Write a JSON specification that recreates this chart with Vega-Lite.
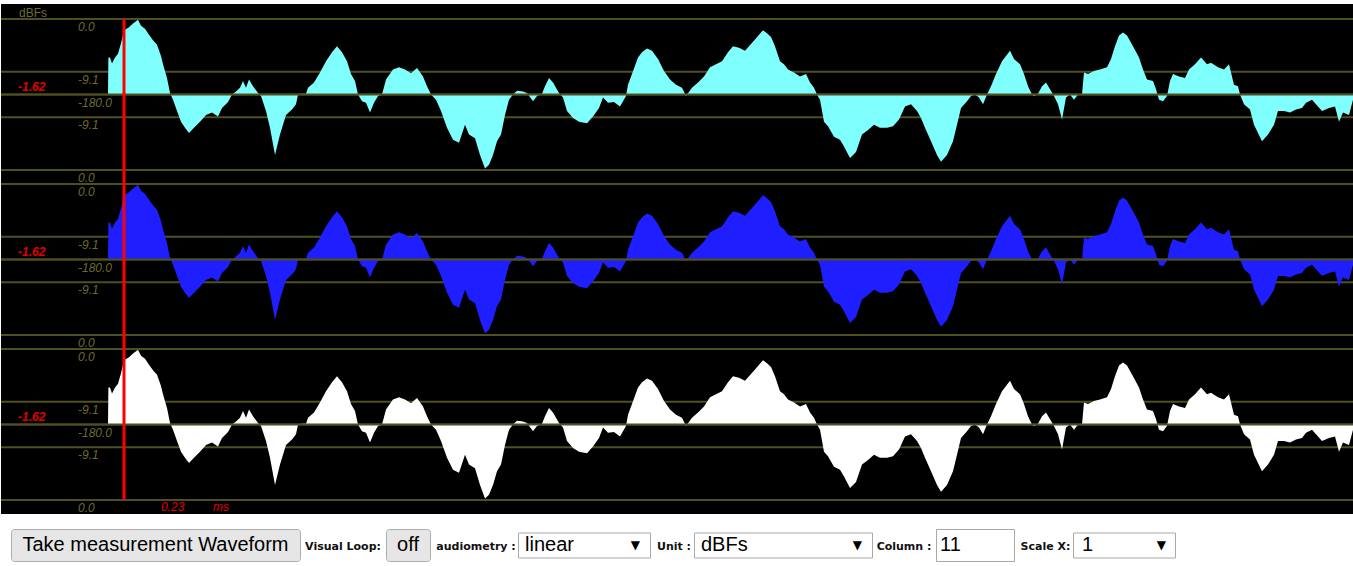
{
"$schema": "https://vega.github.io/schema/vega-lite/v6.json",
"padding": {"left": 0, "top": 4, "right": 0, "bottom": 0},
"background": "white",
"config": {"view": {"stroke": null}, "text": {"font": "Liberation Sans"}},
"datasets": {
"wave": [
{"n":107,"a":0},{"n":107.4,"a":0.49},{"n":109,"a":0.49},{"n":111,"a":0.41},{"n":114,"a":0.49},{"n":117,"a":0.54},{"n":120,"a":0.68},{"n":123,"a":0.85},{"n":128,"a":0.89},{"n":132,"a":0.94},{"n":137,"a":0.99},{"n":140,"a":0.91},{"n":144,"a":0.87},{"n":148,"a":0.79},{"n":152,"a":0.72},{"n":156,"a":0.66},{"n":160,"a":0.51},{"n":162,"a":0.40},{"n":166,"a":0.22},{"n":169,"a":0.02},{"n":172,"a":-0.07},{"n":176,"a":-0.22},{"n":180,"a":-0.36},{"n":184,"a":-0.44},{"n":188,"a":-0.51},{"n":193,"a":-0.44},{"n":199,"a":-0.36},{"n":205,"a":-0.27},{"n":211,"a":-0.24},{"n":217,"a":-0.29},{"n":221,"a":-0.18},{"n":227,"a":-0.10},{"n":231,"a":0},{"n":235,"a":0.04},{"n":239,"a":0.09},{"n":242,"a":0.18},{"n":245,"a":0.09},{"n":248,"a":0.20},{"n":252,"a":0.11},{"n":257,"a":0.02},{"n":260,"a":-0.02},{"n":265,"a":-0.22},{"n":269,"a":-0.44},{"n":274,"a":-0.80},{"n":279,"a":-0.53},{"n":285,"a":-0.27},{"n":291,"a":-0.20},{"n":295,"a":-0.13},{"n":297,"a":0},{"n":301,"a":0.01},{"n":305,"a":0.01},{"n":307,"a":0.09},{"n":313,"a":0.16},{"n":319,"a":0.29},{"n":325,"a":0.44},{"n":331,"a":0.56},{"n":336,"a":0.64},{"n":341,"a":0.56},{"n":346,"a":0.44},{"n":350,"a":0.27},{"n":354,"a":0.18},{"n":357,"a":0},{"n":361,"a":-0.09},{"n":365,"a":-0.11},{"n":369,"a":-0.24},{"n":373,"a":-0.11},{"n":377,"a":-0.02},{"n":381,"a":0},{"n":385,"a":0.20},{"n":392,"a":0.33},{"n":398,"a":0.36},{"n":404,"a":0.33},{"n":410,"a":0.28},{"n":416,"a":0.35},{"n":422,"a":0.24},{"n":426,"a":0.11},{"n":430,"a":0},{"n":435,"a":-0.07},{"n":440,"a":-0.22},{"n":446,"a":-0.44},{"n":452,"a":-0.60},{"n":458,"a":-0.64},{"n":464,"a":-0.40},{"n":468,"a":-0.53},{"n":474,"a":-0.58},{"n":479,"a":-0.80},{"n":484,"a":-0.98},{"n":488,"a":-0.93},{"n":492,"a":-0.80},{"n":496,"a":-0.62},{"n":500,"a":-0.53},{"n":504,"a":-0.27},{"n":508,"a":-0.07},{"n":512,"a":0},{"n":516,"a":0.05},{"n":522,"a":0.04},{"n":526,"a":0.02},{"n":532,"a":-0.09},{"n":536,"a":-0.02},{"n":541,"a":0.01},{"n":544,"a":0.11},{"n":548,"a":0.22},{"n":552,"a":0.16},{"n":558,"a":0.02},{"n":562,"a":-0.04},{"n":566,"a":-0.22},{"n":572,"a":-0.31},{"n":578,"a":-0.36},{"n":586,"a":-0.38},{"n":592,"a":-0.29},{"n":598,"a":-0.18},{"n":602,"a":-0.04},{"n":607,"a":-0.11},{"n":613,"a":-0.10},{"n":619,"a":-0.16},{"n":625,"a":-0.02},{"n":627,"a":0.13},{"n":631,"a":0.27},{"n":637,"a":0.49},{"n":641,"a":0.56},{"n":646,"a":0.61},{"n":651,"a":0.58},{"n":657,"a":0.47},{"n":663,"a":0.31},{"n":669,"a":0.20},{"n":675,"a":0.13},{"n":681,"a":0.09},{"n":685,"a":-0.02},{"n":691,"a":0.09},{"n":697,"a":0.16},{"n":703,"a":0.24},{"n":709,"a":0.36},{"n":715,"a":0.40},{"n":721,"a":0.44},{"n":727,"a":0.56},{"n":732,"a":0.64},{"n":738,"a":0.62},{"n":744,"a":0.58},{"n":748,"a":0.64},{"n":754,"a":0.73},{"n":760,"a":0.82},{"n":762,"a":0.85},{"n":766,"a":0.81},{"n":770,"a":0.76},{"n":774,"a":0.64},{"n":779,"a":0.44},{"n":783,"a":0.40},{"n":787,"a":0.33},{"n":793,"a":0.29},{"n":799,"a":0.24},{"n":805,"a":0.27},{"n":809,"a":0.16},{"n":813,"a":0.09},{"n":816,"a":0},{"n":819,"a":-0.07},{"n":823,"a":-0.36},{"n":827,"a":-0.42},{"n":833,"a":-0.56},{"n":839,"a":-0.60},{"n":843,"a":-0.69},{"n":849,"a":-0.84},{"n":855,"a":-0.76},{"n":861,"a":-0.53},{"n":867,"a":-0.47},{"n":873,"a":-0.40},{"n":879,"a":-0.44},{"n":886,"a":-0.44},{"n":892,"a":-0.42},{"n":898,"a":-0.33},{"n":904,"a":-0.16},{"n":910,"a":-0.13},{"n":916,"a":-0.22},{"n":920,"a":-0.31},{"n":924,"a":-0.44},{"n":930,"a":-0.62},{"n":936,"a":-0.80},{"n":940,"a":-0.89},{"n":946,"a":-0.80},{"n":952,"a":-0.62},{"n":956,"a":-0.40},{"n":960,"a":-0.18},{"n":966,"a":-0.09},{"n":970,"a":-0.02},{"n":974,"a":0},{"n":978,"a":-0.04},{"n":982,"a":-0.13},{"n":986,"a":0},{"n":990,"a":0.11},{"n":995,"a":0.27},{"n":1001,"a":0.44},{"n":1005,"a":0.51},{"n":1009,"a":0.58},{"n":1013,"a":0.47},{"n":1019,"a":0.40},{"n":1023,"a":0.27},{"n":1027,"a":0.11},{"n":1031,"a":0},{"n":1033,"a":-0.02},{"n":1037,"a":0.01},{"n":1041,"a":0.11},{"n":1045,"a":0.16},{"n":1049,"a":0.07},{"n":1053,"a":-0.02},{"n":1057,"a":-0.13},{"n":1061,"a":-0.33},{"n":1065,"a":-0.04},{"n":1069,"a":0},{"n":1073,"a":-0.07},{"n":1077,"a":0},{"n":1081,"a":0},{"n":1083,"a":0.29},{"n":1087,"a":0.27},{"n":1093,"a":0.31},{"n":1099,"a":0.33},{"n":1106,"a":0.36},{"n":1110,"a":0.47},{"n":1114,"a":0.64},{"n":1118,"a":0.78},{"n":1122,"a":0.82},{"n":1126,"a":0.78},{"n":1132,"a":0.64},{"n":1138,"a":0.49},{"n":1142,"a":0.33},{"n":1146,"a":0.20},{"n":1152,"a":0.18},{"n":1155,"a":0.07},{"n":1158,"a":-0.07},{"n":1162,"a":-0.09},{"n":1166,"a":-0.02},{"n":1169,"a":0.18},{"n":1172,"a":0.27},{"n":1178,"a":0.24},{"n":1184,"a":0.22},{"n":1188,"a":0.33},{"n":1194,"a":0.40},{"n":1200,"a":0.49},{"n":1206,"a":0.40},{"n":1210,"a":0.42},{"n":1217,"a":0.36},{"n":1223,"a":0.33},{"n":1228,"a":0.40},{"n":1233,"a":0.13},{"n":1237,"a":0.11},{"n":1239,"a":0},{"n":1243,"a":-0.13},{"n":1249,"a":-0.20},{"n":1253,"a":-0.40},{"n":1257,"a":-0.51},{"n":1261,"a":-0.62},{"n":1267,"a":-0.53},{"n":1273,"a":-0.40},{"n":1277,"a":-0.22},{"n":1283,"a":-0.22},{"n":1289,"a":-0.24},{"n":1295,"a":-0.20},{"n":1301,"a":-0.18},{"n":1305,"a":-0.11},{"n":1311,"a":-0.07},{"n":1315,"a":-0.13},{"n":1321,"a":-0.22},{"n":1328,"a":-0.18},{"n":1334,"a":-0.16},{"n":1338,"a":-0.36},{"n":1342,"a":-0.24},{"n":1348,"a":-0.27},{"n":1353,"a":-0.02}
],
"grid": [{"level":1},{"level":0.3},{"level":0},{"level":-0.3},{"level":-1}],
"gridlabels": [{"label":"0.0","level":1},{"label":"-9.1","level":0.3},{"label":"-180.0","level":0},{"label":"-9.1","level":-0.3},{"label":"0.0","level":-1}],
"cursor": [{"n":123,"value":"-1.62","time":"0.23","unit":"ms"}]
},
"spacing": 0,
"bounds": "flush",
"vconcat": [
{
"width": 1353, "height": 178,
"view": {"fill": "black", "stroke": null},
"layer": [
{"data": {"name": "grid"}, "mark": {"type": "rule", "color": "#4f4f22", "strokeWidth": 2},
 "encoding": {"y": {"field": "level", "type": "quantitative", "scale": {"domain": [-1.1589, 1.1987], "nice": false, "zero": false}, "axis": null}}},
{"data": {"name": "wave"}, "mark": {"type": "area", "color": "#80ffff", "opacity": 1},
 "encoding": {"x": {"field": "n", "type": "quantitative", "scale": {"domain": [0, 1353], "nice": false, "zero": false}, "axis": null}, "y": {"field": "a", "type": "quantitative", "stack": null}, "y2": {"datum": 0}}},
{"data": {"name": "grid"}, "transform": [{"filter": "datum.level == 0"}], "mark": {"type": "rule", "color": "#4f4f22", "strokeWidth": 2},
 "encoding": {"y": {"field": "level", "type": "quantitative"}}},
{"data": {"name": "gridlabels"}, "mark": {"type": "text", "align": "left", "baseline": "middle", "dy": 8, "fontStyle": "italic", "fontSize": 12, "color": "#6b6b30"},
 "encoding": {"x": {"datum": 77}, "y": {"field": "level", "type": "quantitative"}, "text": {"field": "label"}}},
{"data": {"values": [{"label": "dBFs"}]}, "mark": {"type": "text", "align": "left", "baseline": "middle", "fontSize": 12, "color": "#6b6b30"},
 "encoding": {"x": {"datum": 18}, "y": {"datum": 1.079}, "text": {"field": "label"}}},
{"data": {"name": "cursor"}, "mark": {"type": "text", "align": "left", "baseline": "middle", "fontStyle": "italic", "fontWeight": "bold", "fontSize": 12, "color": "#e00000"},
 "encoding": {"x": {"datum": 17}, "y": {"datum": 0.1}, "text": {"field": "value"}}},
{"data": {"name": "cursor"}, "mark": {"type": "rule", "color": "#ff0000", "strokeWidth": 3},
 "encoding": {"x": {"field": "n", "type": "quantitative"}, "y": {"datum": 1}, "y2": {"datum": -1.1589}}}
]
},
{
"width": 1353, "height": 165,
"view": {"fill": "black", "stroke": null},
"layer": [
{"data": {"name": "grid"}, "mark": {"type": "rule", "color": "#4f4f22", "strokeWidth": 2},
 "encoding": {"y": {"field": "level", "type": "quantitative", "scale": {"domain": [-1.1589, 1.0265], "nice": false, "zero": false}, "axis": null}}},
{"data": {"name": "wave"}, "mark": {"type": "area", "color": "#1e1eff", "opacity": 1},
 "encoding": {"x": {"field": "n", "type": "quantitative", "scale": {"domain": [0, 1353], "nice": false, "zero": false}, "axis": null}, "y": {"field": "a", "type": "quantitative", "stack": null}, "y2": {"datum": 0}}},
{"data": {"name": "grid"}, "transform": [{"filter": "datum.level == 0"}], "mark": {"type": "rule", "color": "#4f4f22", "strokeWidth": 2},
 "encoding": {"y": {"field": "level", "type": "quantitative"}}},
{"data": {"name": "gridlabels"}, "mark": {"type": "text", "align": "left", "baseline": "middle", "dy": 8, "fontStyle": "italic", "fontSize": 12, "color": "#6b6b30"},
 "encoding": {"x": {"datum": 77}, "y": {"field": "level", "type": "quantitative"}, "text": {"field": "label"}}},
{"data": {"name": "cursor"}, "mark": {"type": "text", "align": "left", "baseline": "middle", "fontStyle": "italic", "fontWeight": "bold", "fontSize": 12, "color": "#e00000"},
 "encoding": {"x": {"datum": 17}, "y": {"datum": 0.1}, "text": {"field": "value"}}},
{"data": {"name": "cursor"}, "mark": {"type": "rule", "color": "#ff0000", "strokeWidth": 3},
 "encoding": {"x": {"field": "n", "type": "quantitative"}, "y": {"datum": 1.0265}, "y2": {"datum": -1.1589}}}
]
},
{
"width": 1353, "height": 167,
"view": {"fill": "black", "stroke": null},
"layer": [
{"data": {"name": "grid"}, "mark": {"type": "rule", "color": "#4f4f22", "strokeWidth": 2},
 "encoding": {"y": {"field": "level", "type": "quantitative", "scale": {"domain": [-1.1854, 1.0265], "nice": false, "zero": false}, "axis": null}}},
{"data": {"name": "wave"}, "mark": {"type": "area", "color": "#ffffff", "opacity": 1},
 "encoding": {"x": {"field": "n", "type": "quantitative", "scale": {"domain": [0, 1353], "nice": false, "zero": false}, "axis": null}, "y": {"field": "a", "type": "quantitative", "stack": null}, "y2": {"datum": 0}}},
{"data": {"name": "grid"}, "transform": [{"filter": "datum.level == 0"}], "mark": {"type": "rule", "color": "#4f4f22", "strokeWidth": 2},
 "encoding": {"y": {"field": "level", "type": "quantitative"}}},
{"data": {"name": "gridlabels"}, "mark": {"type": "text", "align": "left", "baseline": "middle", "dy": 8, "fontStyle": "italic", "fontSize": 12, "color": "#6b6b30"},
 "encoding": {"x": {"datum": 77}, "y": {"field": "level", "type": "quantitative"}, "text": {"field": "label"}}},
{"data": {"name": "cursor"}, "mark": {"type": "text", "align": "left", "baseline": "middle", "fontStyle": "italic", "fontWeight": "bold", "fontSize": 12, "color": "#e00000"},
 "encoding": {"x": {"datum": 17}, "y": {"datum": 0.1}, "text": {"field": "value"}}},
{"data": {"name": "cursor"}, "mark": {"type": "text", "align": "left", "baseline": "middle", "fontStyle": "italic", "fontSize": 12, "color": "#e00000"},
 "encoding": {"x": {"datum": 160}, "y": {"datum": -1.093}, "text": {"field": "time"}}},
{"data": {"name": "cursor"}, "mark": {"type": "text", "align": "left", "baseline": "middle", "fontStyle": "italic", "fontSize": 12, "color": "#e00000"},
 "encoding": {"x": {"datum": 212}, "y": {"datum": -1.093}, "text": {"field": "unit"}}},
{"data": {"name": "cursor"}, "mark": {"type": "rule", "color": "#ff0000", "strokeWidth": 3},
 "encoding": {"x": {"field": "n", "type": "quantitative"}, "y": {"datum": 1.0265}, "y2": {"datum": -1}}}
]
},
{"width": 1353, "height": 15, "data": {"values": [{"label": ""}]}, "mark": {"type": "text"}, "encoding": {"text": {"field": "label"}}},
{
"spacing": 0,
"bounds": "flush",
"center": true,
"hconcat": [
{"width": 10, "height": 32, "data": {"values": [{"label": ""}]}, "mark": {"type": "text"}, "encoding": {"text": {"field": "label"}}},
{"width": 289, "height": 32, "view": {"fill": "#e6e6e6", "stroke": "#adadad", "cornerRadius": 3}, "data": {"values": [{"label": "Take measurement Waveform"}]}, "mark": {"type": "text", "fontSize": 20, "color": "#000000"}, "encoding": {"text": {"field": "label"}}},
{"width": 86, "height": 32, "data": {"values": [{"label": "Visual Loop:"}]}, "mark": {"type": "text", "font": "DejaVu Sans", "fontWeight": "bold", "fontSize": 11, "dy": 2, "color": "#111111"}, "encoding": {"text": {"field": "label"}}},
{"width": 44, "height": 32, "view": {"fill": "#e6e6e6", "stroke": "#adadad", "cornerRadius": 3}, "data": {"values": [{"label": "off"}]}, "mark": {"type": "text", "fontSize": 20, "color": "#000000"}, "encoding": {"text": {"field": "label"}}},
{"width": 88, "height": 32, "data": {"values": [{"label": "audiometry :"}]}, "mark": {"type": "text", "font": "DejaVu Sans", "fontWeight": "bold", "fontSize": 11, "dy": 2, "dx": 2, "color": "#111111"}, "encoding": {"text": {"field": "label"}}},
{"width": 132, "height": 25, "view": {"fill": "white", "stroke": "#a9a9a9"},
 "layer": [
 {"data": {"values": [{"label": "linear"}]}, "mark": {"type": "text", "align": "left", "fontSize": 20, "color": "#000000"}, "encoding": {"x": {"value": 7}, "text": {"field": "label"}}},
 {"data": {"values": [{"label": "▼"}]}, "mark": {"type": "text", "align": "right", "font": "DejaVu Sans", "fontSize": 12, "color": "#000000"}, "encoding": {"x": {"value": 122}, "text": {"field": "label"}}}
 ]},
{"width": 44, "height": 32, "data": {"values": [{"label": "Unit :"}]}, "mark": {"type": "text", "font": "DejaVu Sans", "fontWeight": "bold", "fontSize": 11, "dy": 2, "dx": 2, "color": "#111111"}, "encoding": {"text": {"field": "label"}}},
{"width": 178, "height": 25, "view": {"fill": "white", "stroke": "#a9a9a9"},
 "layer": [
 {"data": {"values": [{"label": "dBFs"}]}, "mark": {"type": "text", "align": "left", "fontSize": 20, "color": "#000000"}, "encoding": {"x": {"value": 7}, "text": {"field": "label"}}},
 {"data": {"values": [{"label": "▼"}]}, "mark": {"type": "text", "align": "right", "font": "DejaVu Sans", "fontSize": 12, "color": "#000000"}, "encoding": {"x": {"value": 168}, "text": {"field": "label"}}}
 ]},
{"width": 64, "height": 32, "data": {"values": [{"label": "Column :"}]}, "mark": {"type": "text", "font": "DejaVu Sans", "fontWeight": "bold", "fontSize": 11, "dy": 2, "color": "#111111"}, "encoding": {"text": {"field": "label"}}},
{"width": 78, "height": 32, "view": {"fill": "white", "stroke": "#a9a9a9"}, "data": {"values": [{"label": "11"}]}, "mark": {"type": "text", "align": "left", "fontSize": 20, "color": "#000000"}, "encoding": {"x": {"value": 4}, "text": {"field": "label"}}},
{"width": 59, "height": 32, "data": {"values": [{"label": "Scale X:"}]}, "mark": {"type": "text", "font": "DejaVu Sans", "fontWeight": "bold", "fontSize": 11, "dy": 2, "dx": 2, "color": "#111111"}, "encoding": {"text": {"field": "label"}}},
{"width": 102, "height": 25, "view": {"fill": "white", "stroke": "#a9a9a9"},
 "layer": [
 {"data": {"values": [{"label": "1"}]}, "mark": {"type": "text", "align": "left", "fontSize": 20, "color": "#000000"}, "encoding": {"x": {"value": 9}, "text": {"field": "label"}}},
 {"data": {"values": [{"label": "▼"}]}, "mark": {"type": "text", "align": "right", "font": "DejaVu Sans", "fontSize": 12, "color": "#000000"}, "encoding": {"x": {"value": 93}, "text": {"field": "label"}}}
 ]}
]
}
]
}
